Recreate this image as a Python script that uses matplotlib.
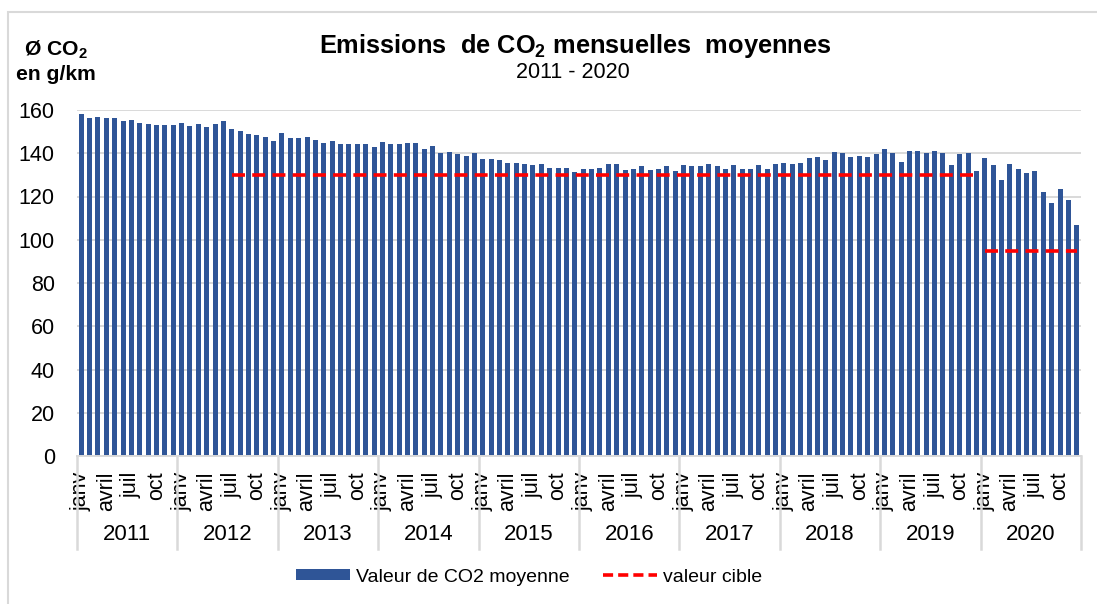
import numpy as np
import matplotlib
matplotlib.use("Agg")
import matplotlib.pyplot as plt
from matplotlib.patches import Patch, Rectangle
from matplotlib.lines import Line2D

plt.rcParams['font.family'] = ['Liberation Sans', 'DejaVu Sans']
plt.rcParams['mathtext.fontset'] = 'custom'
plt.rcParams['mathtext.rm'] = 'Liberation Sans'
plt.rcParams['mathtext.bf'] = 'Liberation Sans:bold'

# monthly values (g/km)
annees = ['2011', '2012', '2013', '2014', '2015', '2016', '2017', '2018', '2019', '2020']
mois = ['janv', 'févr', 'mars', 'avril', 'mai', 'juin', 'juil', 'août', 'sept', 'oct', 'nov', 'déc']
co2_2011 = [158.0, 156.4, 156.9, 156.4, 156.4, 154.8, 155.4, 154.1, 153.7, 153.1, 153.1, 153.1]
co2_2012 = [154.1, 152.6, 153.5, 152.0, 153.5, 154.8, 151.2, 150.3, 149.0, 148.6, 147.4, 145.8]
co2_2013 = [149.2, 146.9, 146.9, 147.4, 146.3, 144.7, 145.6, 144.1, 144.1, 144.1, 144.1, 142.9]
co2_2014 = [145.0, 144.1, 144.1, 144.6, 144.6, 141.8, 143.3, 140.2, 140.6, 139.5, 138.9, 140.1]
co2_2015 = [137.3, 137.3, 136.7, 135.6, 135.6, 135.0, 134.4, 135.0, 133.3, 133.3, 133.3, 131.3]
co2_2016 = [132.7, 132.7, 133.3, 135.0, 135.0, 132.2, 132.7, 133.9, 132.2, 132.7, 133.9, 131.8]
co2_2017 = [134.5, 133.9, 133.9, 135.0, 133.9, 132.7, 134.5, 132.7, 132.7, 134.5, 132.7, 135.0]
co2_2018 = [135.6, 135.0, 135.6, 137.8, 138.2, 136.7, 140.6, 140.1, 138.2, 138.9, 138.2, 139.5]
co2_2019 = [141.8, 140.1, 136.1, 141.2, 141.2, 140.1, 141.2, 140.1, 134.4, 139.5, 140.1, 131.8]
co2_2020 = [137.8, 134.4, 127.6, 135.0, 132.7, 131.0, 131.8, 122.0, 116.9, 123.3, 118.2, 106.8]

# target values: 130 g/km from juil 2012 to déc 2019, 95 g/km in 2020
cible_130 = [None] * 18 + [130] * 90 + [None] * 12
cible_95 = [None] * 108 + [95] * 12

valeurs = (co2_2011 + co2_2012 + co2_2013 + co2_2014 + co2_2015 +
           co2_2016 + co2_2017 + co2_2018 + co2_2019 + co2_2020)
n = len(valeurs)
x = np.arange(n)

bleu = '#2F5597'
gris = '#D9D9D9'

fig = plt.figure(figsize=(10.97, 6.04), dpi=100)
ax = fig.add_axes([77 / 1097, 1 - 456 / 604, (1081 - 77) / 1097, (456 - 110) / 604])

ax.bar(x, valeurs, width=0.6, color=bleu, zorder=2)
for cible in (cible_130, cible_95):
    c = np.array([np.nan if v is None else v for v in cible], dtype=float)
    ax.plot(x, c, color='#FF0000', lw=2.6, dashes=(3.6, 2.0), zorder=3)

ax.set_xlim(-0.5, n - 0.5)
ax.set_ylim(0, 160)
ax.set_yticks(np.arange(0, 161, 20))
ax.yaxis.grid(True, color=gris, lw=1.4, zorder=0)
ax.tick_params(axis='y', length=0, pad=16, labelsize=15.5)
for s in ['top', 'right', 'left']:
    ax.spines[s].set_visible(False)
ax.spines['bottom'].set_color(gris)
ax.spines['bottom'].set_linewidth(1.4)

# month labels (every 3rd month)
pos = [i for i in range(n) if i % 3 == 0]
ax.set_xticks(pos)
ax.set_xticklabels([mois[i % 12] for i in pos], rotation=90, fontsize=15.5,
                   va='top', ha='center')
ax.tick_params(axis='x', length=0, pad=11)

# year groups
trans = ax.get_xaxis_transform()
for k, an in enumerate(annees):
    ax.text(12 * k + 5.5, -0.228, an, transform=trans, ha='center', va='center', fontsize=16)
for k in range(len(annees) + 1):
    ax.plot([12 * k - 0.5] * 2, [0, -0.27], transform=trans, color=gris, lw=1.8,
            clip_on=False)

# titles
fig.text(575 / 1097, 1 - 46 / 604, r'Emissions  de CO$_\mathbf{2}$ mensuelles  moyennes',
         ha='center', va='center', fontsize=18.3, fontweight='bold')
fig.text(573 / 1097, 1 - 73 / 604, '2011 - 2020', ha='center', va='center', fontsize=15.5)
fig.text(56 / 1097, 1 - 50 / 604, r'Ø CO$_\mathbf{2}$', ha='center', va='center',
         fontsize=15.2, fontweight='bold')
fig.text(56 / 1097, 1 - 75 / 604, 'en g/km', ha='center', va='center',
         fontsize=15.2, fontweight='bold')

# legend
handles = [Patch(facecolor=bleu, edgecolor='none'),
           Line2D([], [], color='#FF0000', lw=2.6, dashes=(2.8, 1.4))]
fig.legend(handles, ['Valeur de CO2 moyenne', 'valeur cible'], loc='center',
           bbox_to_anchor=(529 / 1097, 27 / 604), ncol=2, frameon=False, fontsize=14,
           handlelength=2.8, handleheight=0.5, handletextpad=0.3, columnspacing=1.7)

# chart border
fig.patches.append(Rectangle((8 / 1097, -0.1), 1.2, 1 - 12 / 604 + 0.1,
                             transform=fig.transFigure, fill=False, edgecolor=gris, lw=1.5))

fig.savefig('out.png', dpi=100)
